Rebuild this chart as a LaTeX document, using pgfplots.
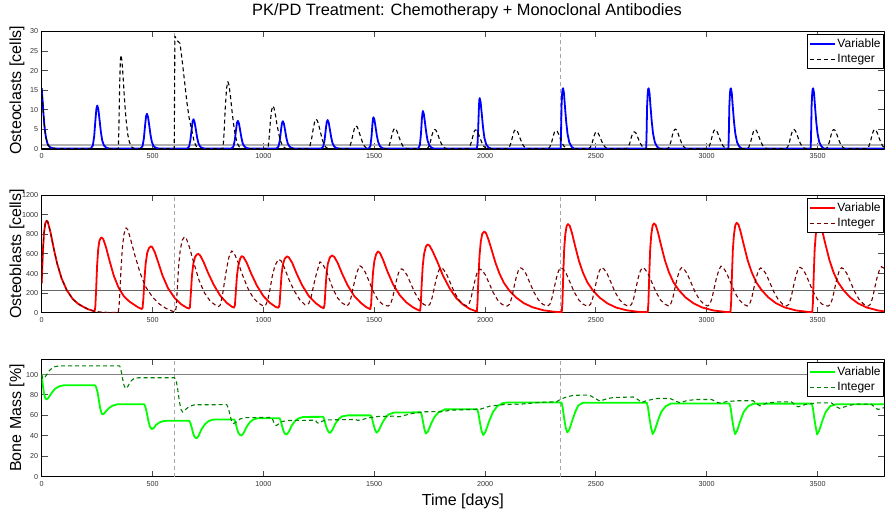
\documentclass[border=0pt]{standalone}
\usepackage{fontspec}
\setmainfont{Liberation Sans}
\usepackage{pgfplots}
\pgfplotsset{compat=1.18}
\definecolor{intred}{rgb}{0.45,0,0}
\definecolor{intgreen}{rgb}{0,0.5,0}
\pgfplotsset{
  panel/.style={
    scale only axis, width=842.4pt, height=117.5pt,
    xmin=0, xmax=3800,
    xtick={0,500,...,3500},
    tick align=inside,
    major tick length=6pt,
    tick style={black!70, line width=1pt},
    axis line style={line width=1.1pt},
    tick label style={font=\fontsize{7.2}{8}\selectfont, text=black!80},
    xticklabel style={yshift=-1.2pt},
    /pgf/number format/assume math mode=true,
    /pgf/number format/1000 sep={},
    ylabel style={font=\fontsize{16}{18}\selectfont, at={(axis description cs:-0.0245,0.5)}, anchor=base},
    legend style={at={(1,1)}, anchor=north east, yshift=-3pt,
      font=\fontsize{12}{13}\selectfont, draw=black, line width=0.9pt,
      inner xsep=1pt, inner ysep=2pt, row sep=1.5pt},
    legend cell align=left,
    legend image code/.code={\draw[##1] (0pt,0pt) -- (25pt,0pt);},
    line join=round,
  },
  vmark/.style={gray!70, line width=0.8pt, dash pattern=on 4pt off 3pt, forget plot},
  intdash/.style={line width=1.1pt, dash pattern=on 4pt off 3pt},
}
\begin{document}
\begin{tikzpicture}

% Osteoclasts
\begin{axis}[panel, at={(41.67pt,363pt)}, anchor=south west,
  ymin=0, ymax=30, ytick={0,5,...,30},
  ylabel={Osteoclasts [cells]},
  title={PK/PD Treatment: Chemotherapy + Monoclonal Antibodies},
  title style={font=\fontsize{16.4}{18}\selectfont, at={(axis description cs:0.505,1)}, anchor=base, yshift=10pt},
]
\addplot[black!30, line width=2pt, forget plot] coordinates {(0,1) (3800,1)};
\addplot[vmark] coordinates {(600,0) (600,30)};
\addplot[vmark] coordinates {(2340,0) (2340,30)};
\addplot[blue, line width=1.8pt] coordinates {
(0,15.5)(4,12.5)(8,9)(12,6.2)(16,4.2)(20,2.8)(25,1.6)(30,0.9)(38,0.45)(50,0.2)(70,0.1)
(221,0.1)(231,0.9)(237,3.3)(243,7.8)(247,10.3)(251,11.1)(256,10.0)(261,7.5)(267,4.4)(273,2.2)(281,0.9)(291,0.35)(306,0.1)
(445,0.1)(455,0.7)(461,2.7)(467,6.3)(471,8.4)(475,9.0)(480,8.1)(485,6.1)(491,3.6)(497,1.8)(505,0.7)(515,0.3)(530,0.1)
(655,0.1)(665,0.6)(671,2.3)(677,5.3)(681,7.1)(685,7.6)(690,6.8)(695,5.2)(701,3.0)(707,1.5)(715,0.6)(725,0.25)(740,0.1)
(855,0.1)(865,0.6)(871,2.2)(877,5.0)(881,6.7)(885,7.2)(890,6.5)(895,4.9)(901,2.9)(907,1.4)(915,0.6)(925,0.25)(940,0.1)
(1058,0.1)(1068,0.6)(1074,2.1)(1080,5.0)(1084,6.6)(1088,7.1)(1093,6.4)(1098,4.8)(1104,2.8)(1110,1.4)(1118,0.6)(1128,0.25)(1143,0.1)
(1260,0.1)(1270,0.6)(1276,2.2)(1282,5.2)(1286,6.9)(1290,7.4)(1295,6.7)(1300,5.0)(1306,3.0)(1312,1.5)(1320,0.6)(1330,0.25)(1345,0.1)
(1475,0.1)(1483,0.8)(1488,3.2)(1492,6.3)(1495,7.8)(1497,8.1)(1501,7.5)(1506,5.7)(1512,3.4)(1518,1.8)(1526,0.7)(1536,0.25)(1549,0.1)
(1698,0.1)(1706,1.0)(1711,3.9)(1715,7.6)(1718,9.3)(1720,9.7)(1724,8.9)(1729,6.8)(1735,4.1)(1741,2.1)(1749,0.9)(1759,0.3)(1772,0.1)
(1962,0.1)(1966,1.0)(1969,5)(1972,10)(1974,12.5)(1976,13.0)(1980,12.0)(1985,9.1)(1991,5.5)(1997,2.9)(2005,1.2)(2015,0.4)(2028,0.1)
(2341,0.1)(2343,4.6)(2345,10.9)(2348,14.4)(2350,15.3)(2352,15.5)(2356,14.3)(2360,11.2)(2366,7.0)(2372,3.9)(2380,1.7)(2390,0.6)(2402,0.1)
(2727,0.1)(2729,4.6)(2731,10.9)(2734,14.4)(2736,15.3)(2738,15.5)(2742,14.3)(2746,11.2)(2752,7.0)(2758,3.9)(2766,1.7)(2776,0.6)(2788,0.1)
(3098,0.1)(3100,4.6)(3102,10.9)(3105,14.4)(3107,15.3)(3109,15.5)(3113,14.3)(3117,11.2)(3123,7.0)(3129,3.9)(3137,1.7)(3147,0.6)(3159,0.1)
(3469,0.1)(3471,4.6)(3473,10.9)(3476,14.4)(3478,15.3)(3480,15.5)(3484,14.3)(3488,11.2)(3494,7.0)(3500,3.9)(3508,1.7)(3518,0.6)(3530,0.1)
(3800,0.1)
};
\addlegendentry{Variable}
\addplot[black, intdash] coordinates {
(0,15.5)(4,12.5)(8,9)(12,6.2)(16,4.2)(20,2.8)(25,1.6)(30,0.9)(38,0.45)(50,0.2)(70,0.1)
(346,0.1)(349,7.2)(352,16.8)(355,22.6)(358,24)(362,22.6)(367,18.7)(373,13.2)(380,7.9)(388,3.8)(396,1.7)(406,0.5)(418,0.1)
(598,0.1)(601,28.8)(606,28.2)(612,27.6)(618,27.3)(624,27)(635,22)(645,17)(655,12)(665,8)(677,4.8)(688,1.8)(700,0.4)(712,0.1)
(818,0.1)(823,4.3)(828,10.3)(834,15.5)(840,17.2)(845,16.3)(851,13.8)(858,10.0)(866,6.2)(874,3.3)(883,1.4)(892,0.5)(902,0.1)
(1021,0.1)(1026,2.8)(1031,6.6)(1037,9.9)(1043,11)(1048,10.5)(1054,8.8)(1061,6.4)(1069,4.0)(1077,2.1)(1086,0.9)(1095,0.35)(1105,0.1)
(1203,0.1)(1210,0.8)(1218,2.7)(1226,5.5)(1232,7.1)(1238,7.6)(1244,7.2)(1250,6.1)(1258,4.2)(1266,2.4)(1274,1.1)(1283,0.4)(1293,0.1)
(1383,0.1)(1390,0.6)(1398,2.1)(1406,4.2)(1412,5.5)(1418,5.9)(1424,5.6)(1430,4.7)(1438,3.2)(1446,1.9)(1454,0.9)(1463,0.3)(1473,0.1)
(1558,0.1)(1565,0.5)(1573,1.9)(1581,3.8)(1587,4.9)(1593,5.3)(1599,5.0)(1605,4.2)(1613,2.9)(1621,1.7)(1629,0.8)(1638,0.3)(1648,0.1)
(1738,0.1)(1745,0.5)(1753,1.75)(1761,3.6)(1767,4.65)(1773,5.0)(1779,4.75)(1785,4.0)(1793,2.75)(1801,1.6)(1809,0.75)(1818,0.25)(1828,0.1)
(1923,0.1)(1930,0.5)(1938,1.7)(1946,3.5)(1952,4.6)(1958,4.9)(1964,4.65)(1970,3.9)(1978,2.7)(1986,1.6)(1994,0.7)(2003,0.25)(2013,0.1)
(2103,0.1)(2110,0.5)(2118,1.75)(2126,3.6)(2132,4.65)(2138,5.0)(2144,4.75)(2150,4.0)(2158,2.75)(2166,1.6)(2174,0.75)(2183,0.25)(2193,0.1)
(2285,0.1)(2292,0.5)(2300,1.6)(2308,3.4)(2314,4.4)(2320,4.7)(2326,4.5)(2332,3.8)(2340,2.6)(2348,1.5)(2356,0.7)(2365,0.25)(2375,0.1)
(2468,0.1)(2475,0.45)(2483,1.5)(2491,3.2)(2497,4.1)(2503,4.4)(2509,4.2)(2515,3.5)(2523,2.4)(2531,1.4)(2539,0.65)(2548,0.2)(2558,0.1)
(2638,0.1)(2645,0.45)(2653,1.5)(2661,3.2)(2667,4.1)(2673,4.4)(2679,4.2)(2685,3.5)(2693,2.4)(2701,1.4)(2709,0.65)(2718,0.2)(2728,0.1)
(2823,0.1)(2830,0.5)(2838,1.8)(2846,3.7)(2852,4.7)(2858,5.1)(2864,4.85)(2870,4.1)(2878,2.8)(2886,1.6)(2894,0.75)(2903,0.25)(2913,0.1)
(3003,0.1)(3010,0.5)(3018,1.75)(3026,3.6)(3032,4.65)(3038,5.0)(3044,4.75)(3050,4.0)(3058,2.75)(3066,1.6)(3074,0.75)(3083,0.25)(3093,0.1)
(3183,0.1)(3190,0.5)(3198,1.75)(3206,3.6)(3212,4.65)(3218,5.0)(3224,4.75)(3230,4.0)(3238,2.75)(3246,1.6)(3254,0.75)(3263,0.25)(3273,0.1)
(3358,0.1)(3365,0.5)(3373,1.75)(3381,3.6)(3387,4.65)(3393,5.0)(3399,4.75)(3405,4.0)(3413,2.75)(3421,1.6)(3429,0.75)(3438,0.25)(3448,0.1)
(3538,0.1)(3545,0.5)(3553,1.75)(3561,3.6)(3567,4.65)(3573,5.0)(3579,4.75)(3585,4.0)(3593,2.75)(3601,1.6)(3609,0.75)(3618,0.25)(3628,0.1)
(3723,0.1)(3730,0.5)(3738,1.75)(3746,3.6)(3752,4.65)(3758,5.0)(3764,4.75)(3770,4.0)(3778,2.75)(3786,1.6)(3794,0.75)(3800,0.4)
};
\addlegendentry{Integer}
\end{axis}

% Osteoblasts
\begin{axis}[panel, at={(41.67pt,199.3pt)}, anchor=south west,
  ymin=0, ymax=1200, ytick={0,200,...,1200},
  ylabel={Osteoblasts [cells]},
]
\addplot[black!60, line width=0.8pt, forget plot] coordinates {(0,230) (3800,230)};
\addplot[vmark] coordinates {(600,0) (600,1200)};
\addplot[vmark] coordinates {(2340,0) (2340,1200)};
\addplot[red, line width=1.8pt] coordinates {
(0,300)(5,600)(10,800)(16,910)(22,940)(28,925)(40,820)(55,650)(70,500)(90,350)(113,231)(140,140)(165,90)(188,60)(210,35)(233,18)(239,15)
(242,60)(246,250)(250,480)(255,650)(260,730)(266,762)(271,768)(278,750)(290,670)(305,540)(325,380)(346,260)(370,170)(395,115)(413,88)(435,55)(451,38)
(455,45)(459,150)(464,350)(469,500)(476,610)(484,660)(492,678)(498,672)(510,620)(525,520)(545,380)(570,250)(600,150)(630,85)(655,50)(665,42)
(669,60)(673,200)(678,380)(684,500)(692,570)(700,595)(707,600)(715,585)(730,520)(750,410)(775,290)(805,175)(835,100)(860,58)(868,52)
(872,80)(876,220)(881,380)(887,480)(895,550)(902,578)(910,570)(925,510)(945,400)(970,280)(1000,170)(1030,100)(1055,60)(1068,50)
(1073,80)(1077,220)(1082,390)(1088,490)(1096,550)(1106,575)(1115,565)(1130,510)(1150,400)(1175,280)(1205,170)(1235,100)(1260,58)(1272,46)
(1276,80)(1280,230)(1285,400)(1291,500)(1300,565)(1310,585)(1320,570)(1335,510)(1355,400)(1380,280)(1410,170)(1440,100)(1465,55)(1482,36)
(1486,80)(1490,250)(1495,420)(1501,530)(1509,600)(1517,625)(1526,610)(1540,540)(1560,420)(1585,290)(1615,180)(1645,105)(1675,55)(1700,25)(1707,20)
(1710,80)(1714,280)(1719,480)(1725,600)(1733,675)(1741,697)(1750,685)(1765,620)(1785,520)(1810,380)(1840,250)(1870,150)(1900,85)(1930,40)(1963,12)
(1966,100)(1970,350)(1975,580)(1981,730)(1988,810)(1997,828)(2005,810)(2015,750)(2030,640)(2047,510)(2065,400)(2085,305)(2110,225)(2140,155)(2175,97)(2215,55)(2265,24)(2315,9)(2346,5)
(2349,100)(2353,400)(2357,650)(2362,800)(2368,885)(2374,905)(2382,888)(2392,815)(2407,675)(2424,526)(2442,407)(2462,308)(2487,226)(2517,154)(2552,95)(2592,52)(2642,23)(2692,9)(2734,5)
(2737,100)(2741,400)(2745,650)(2750,800)(2756,890)(2762,912)(2770,895)(2780,821)(2795,680)(2812,530)(2830,410)(2850,310)(2875,228)(2905,155)(2940,96)(2980,53)(3030,23)(3080,9)(3107,5)
(3110,100)(3114,400)(3118,650)(3123,800)(3129,895)(3135,918)(3143,901)(3153,826)(3168,685)(3185,533)(3203,413)(3223,312)(3248,230)(3278,156)(3313,96)(3353,53)(3403,23)(3453,9)(3476,5)
(3479,100)(3483,400)(3487,650)(3492,800)(3498,895)(3504,918)(3512,901)(3522,826)(3537,685)(3554,533)(3572,413)(3592,312)(3617,230)(3647,156)(3682,96)(3722,53)(3772,23)(3800,14)
};
\addlegendentry{Variable}
\addplot[intred, intdash] coordinates {
(0,300)(5,600)(10,800)(16,910)(22,940)(28,925)(40,820)(55,650)(70,500)(90,350)(113,231)(140,140)(165,90)(188,60)(210,35)(233,18)(260,8)(300,3)(345,2)
(349,60)(353,220)(358,450)(364,660)(371,800)(380,867)(388,850)(400,760)(420,590)(445,400)(470,260)(500,160)(530,90)(560,45)(590,15)(603,10)
(607,60)(612,250)(618,480)(625,640)(634,740)(644,775)(652,760)(665,680)(685,520)(710,330)(735,200)(760,120)(785,75)(797,62)
(805,75)(815,170)(825,320)(835,460)(845,570)(857,632)(868,610)(885,520)(905,390)(930,250)(955,150)(980,95)(1000,68)
(1010,75)(1020,130)(1030,240)(1040,370)(1052,480)(1068,545)(1080,530)(1095,460)(1115,340)(1140,220)(1165,130)(1188,80)
(1195,78)(1205,95)(1215,155)(1225,260)(1235,360)(1245,440)(1255,520)(1265,504)(1280,447)(1295,359)(1315,239)(1335,151)(1355,99)(1370,80)
(1375,68)(1385,85)(1395,150)(1405,255)(1415,355)(1425,430)(1435,479)(1445,465)(1460,412)(1475,331)(1495,220)(1515,139)(1535,91)(1550,74)
(1563,68)(1573,85)(1583,150)(1593,255)(1603,355)(1613,430)(1623,449)(1633,434)(1648,384)(1663,308)(1683,205)(1703,129)(1723,85)(1738,70)
(1741,68)(1751,85)(1761,150)(1771,255)(1781,355)(1791,430)(1801,459)(1811,446)(1826,396)(1841,317)(1861,212)(1881,133)(1901,87)(1916,71)
(1917,68)(1927,85)(1937,150)(1947,255)(1957,355)(1967,430)(1977,445)(1987,434)(2002,384)(2017,308)(2037,205)(2057,129)(2077,85)(2092,70)
(2100,68)(2110,85)(2120,150)(2130,255)(2140,355)(2150,430)(2160,459)(2170,446)(2185,396)(2200,317)(2220,212)(2240,133)(2260,87)(2275,71)
(2282,68)(2292,85)(2302,150)(2312,255)(2322,355)(2332,430)(2342,459)(2352,446)(2367,396)(2382,317)(2402,212)(2422,133)(2442,87)(2457,71)
(2466,68)(2476,85)(2486,150)(2496,255)(2506,355)(2516,430)(2526,462)(2536,448)(2551,397)(2566,319)(2586,213)(2606,134)(2626,88)(2641,71)
(2651,68)(2661,85)(2671,150)(2681,255)(2691,355)(2701,430)(2711,460)(2721,446)(2736,396)(2751,317)(2771,212)(2791,133)(2811,87)(2826,71)
(2827,68)(2837,85)(2847,150)(2857,255)(2867,355)(2877,430)(2887,462)(2897,448)(2912,397)(2927,319)(2947,213)(2967,134)(2987,88)(3002,71)
(3004,68)(3014,85)(3024,150)(3034,255)(3044,355)(3054,430)(3064,476)(3074,462)(3089,409)(3104,328)(3124,219)(3144,138)(3164,90)(3179,72)
(3183,68)(3193,85)(3203,150)(3213,255)(3223,355)(3233,430)(3243,458)(3253,444)(3268,394)(3283,316)(3303,211)(3323,133)(3343,87)(3358,71)
(3360,68)(3370,85)(3380,150)(3390,255)(3400,355)(3410,430)(3420,465)(3430,451)(3445,400)(3460,321)(3480,214)(3500,135)(3520,88)(3535,72)
(3548,68)(3558,85)(3568,150)(3578,255)(3588,355)(3598,430)(3608,460)(3618,446)(3633,396)(3648,317)(3668,212)(3688,133)(3708,87)(3723,71)
(3728,68)(3738,85)(3748,150)(3758,255)(3768,355)(3778,430)(3788,470)(3798,456)(3800,452)
};
\addlegendentry{Integer}
\end{axis}

% Bone mass
\begin{axis}[panel, at={(41.67pt,35.3pt)}, anchor=south west,
  ymin=0, ymax=115, ytick={0,20,...,100},
  ylabel={Bone Mass [\%]},
  xlabel={Time [days]},
  xlabel style={font=\fontsize{16}{18}\selectfont, at={(axis description cs:0.5,0)}, anchor=base, yshift=-28.3pt},
]
\addplot[black!50, line width=0.8pt, forget plot] coordinates {(0,100) (3800,100)};
\addplot[vmark] coordinates {(600,0) (600,115)};
\addplot[vmark] coordinates {(2340,0) (2340,115)};
\addplot[green, line width=1.8pt] coordinates {
(0,100)(5,90)(10,82)(16,77)(22,75.6)(30,77)(45,82)(60,86)(80,88.5)(100,89.5)(240,89.5)(245,88)(252,83)(258,75)(264,67)(271,61.5)(278,61)(290,64)(305,67.5)(320,69.5)(340,70.8)(360,71)
(462,71)(467,69)(474,63)(481,55)(488,49)(496,46.6)(505,47.5)(515,50.5)(530,53)(550,54.5)(570,54.8)
(665,54.8)(670,53)(677,48)(684,42)(691,38.5)(699,37.5)(708,40)(720,46)(735,51)(750,54)(770,55.8)(790,56)
(868,56)(873,54)(880,48)(887,43)(895,40.8)(902,40.4)(912,43)(925,49)(940,53.5)(955,56)(975,57.2)(1000,57.3)
(1073,57.3)(1078,55)(1085,49)(1092,44)(1100,41.5)(1105,41.4)(1115,44)(1128,50)(1143,54.5)(1158,57)(1180,58.5)
(1270,58.6)(1275,56)(1282,50)(1289,46)(1296,43.2)(1302,43)(1312,46)(1325,52)(1340,56.5)(1355,59)(1380,60)
(1485,60)(1490,57)(1497,51)(1504,46)(1511,43)(1520,45)(1535,52)(1550,57.5)(1565,61)(1590,62.8)
(1710,63)(1715,60)(1721,53)(1727,46)(1733,42.3)(1742,44)(1757,52)(1772,58.5)(1790,63)(1820,66)
(1965,66)(1970,62)(1977,53)(1984,45)(1992,40.7)(2002,44)(2018,54)(2035,63)(2055,69)(2080,72)(2100,72.6)
(2345,72.6)(2350,68)(2357,57)(2364,48)(2371,43.3)(2380,46)(2395,56)(2408,64)(2420,69.5)(2440,72.3)
(2730,72.3)(2735,68)(2742,57)(2749,48)(2756,41.7)(2765,45)(2780,55)(2795,63.5)(2815,69)(2840,71.7)
(3103,71.7)(3108,67)(3115,56)(3122,47)(3128,41.7)(3137,45)(3152,55)(3167,63.5)(3187,69)(3212,71.5)
(3474,71.5)(3479,67)(3486,56)(3493,47)(3498,41.4)(3507,45)(3522,55)(3537,63.5)(3557,69)(3585,71)(3800,71)
};
\addlegendentry{Variable}
\addplot[intgreen, intdash] coordinates {
(0,100)(5,96.5)(10,96)(20,99)(35,104)(55,107.5)(80,108.5)(352,108.5)(358,104)(365,96)(372,89)(379,86.3)(388,88)(400,93)(415,96)(435,96.8)
(600,96.8)(607,94)(614,85)(621,74)(628,66)(636,63.3)(648,65.5)(665,68.8)(690,70.4)(835,70.5)(842,67)(850,60)(857,54)(865,52)(878,53.5)(895,56.5)(920,57.8)
(1038,58)(1043,55.5)(1050,51.5)(1058,50)(1068,51.5)(1085,54)(1110,55)(1235,55.3)(1243,52.8)(1252,52.3)(1265,54.3)(1285,55.6)
(1415,56)(1425,55.2)(1438,55.3)(1470,57.5)(1520,59)(1598,59.3)(1608,58.6)(1622,59)(1660,61.5)(1720,63.5)(1778,63.8)(1788,63.2)(1802,63.6)(1850,65.2)
(1960,66)(1970,65.6)(1985,66.5)(2020,69)(2080,70.5)(2142,71)(2152,70.6)(2170,71.2)(2250,72.8)(2322,73.3)(2335,75)(2360,77.5)(2395,79.5)(2428,79.8)
(2470,79.8)(2490,77.5)(2518,74)(2545,76)(2578,77.5)(2668,78)(2690,75.5)(2706,72.6)(2730,74.5)(2774,76.5)(2835,76.5)(2860,74)(2880,72.3)(2910,74.5)(2955,75.6)
(3022,75.6)(3045,73)(3060,72)(3090,73.5)(3135,74.3)(3210,74.3)(3228,71)(3240,69.4)(3270,72)(3322,73.3)(3382,73.3)(3400,70)(3412,68.4)(3450,71)(3502,72.3)
(3562,72.3)(3585,68.5)(3600,66.8)(3630,69)(3667,71)(3742,71)(3760,67.5)(3773,65.8)(3790,67)(3800,67.5)
};
\addlegendentry{Integer}
\end{axis}

\pgfresetboundingbox
\path[use as bounding box] (0,0) rectangle (885pt,512pt);
\end{tikzpicture}
\end{document}
